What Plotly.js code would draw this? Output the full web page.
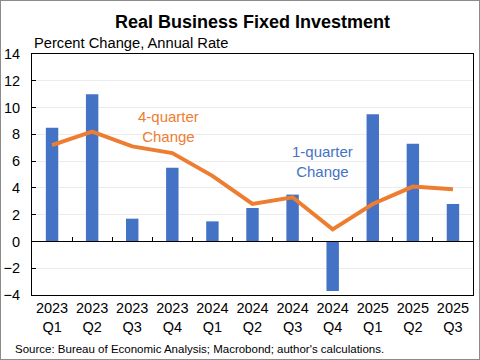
<!DOCTYPE html>
<html><head><meta charset="utf-8">
<script src="https://cdn.plot.ly/plotly-3.0.1.min.js"></script>
<style>html,body{margin:0;padding:0;background:#fff}#chart{width:478px;height:358px;border:1px solid #8c8c8c}</style>
</head><body><div id="chart"></div>
<script>
const categories = ["2023<br>Q1","2023<br>Q2","2023<br>Q3","2023<br>Q4","2024<br>Q1","2024<br>Q2","2024<br>Q3","2024<br>Q4","2025<br>Q1","2025<br>Q2","2025<br>Q3"];
const oneQuarter = [8.5, 11.0, 1.7, 5.5, 1.5, 2.5, 3.5, -3.7, 9.5, 7.3, 2.8];
const fourQuarter = [7.2, 8.2, 7.1, 6.6, 4.9, 2.8, 3.3, 0.9, 2.8, 4.1, 3.9];
const yTicks = [-4, -2, 0, 2, 4, 6, 8, 10, 12, 14];

const font = "Liberation Sans, Arial, sans-serif";
const traces = [
  {type:"bar", x:categories, y:oneQuarter, marker:{color:"#4472C4"}, width:0.31, xaxis:"x", yaxis:"y", hoverinfo:"skip"},
  {type:"scatter", mode:"lines", x:categories, y:fourQuarter, line:{color:"#ED7D31", width:4}, xaxis:"x2", yaxis:"y", hoverinfo:"skip"}
];
const layout = {
  width:478, height:358,
  margin:{l:31, r:6, t:53, b:64},
  paper_bgcolor:"#fff", plot_bgcolor:"#fff",
  showlegend:false,
  font:{family:font, color:"#000"},
  title:{text:"<b>Real Business Fixed Investment</b>", font:{size:18, family:font, color:"#000"}, x:0.5, xref:"paper", xanchor:"center", y:1-21/358, yref:"container", yanchor:"middle"},
  xaxis:{type:"category", range:[-0.5,10.5], showline:true, mirror:true, linecolor:"#000", linewidth:1, ticks:"", showgrid:false, zeroline:false, tickfont:{size:14.5, color:"#000"}, fixedrange:true},
  xaxis2:{type:"category", range:[-0.5,10.5], overlaying:"x", anchor:"free", position:4/18, showline:true, linecolor:"#000", linewidth:1, ticks:"inside", ticklen:4, tickcolor:"#000", tickson:"boundaries", showticklabels:false, showgrid:false, zeroline:false},
  yaxis:{range:[-4,14], tickvals:yTicks, showline:true, mirror:true, linecolor:"#000", linewidth:1, ticks:"inside", ticklen:4, tickcolor:"#000", showgrid:true, gridcolor:"#ececec", gridwidth:1, zeroline:false, tickfont:{size:14.5, color:"#000"}, ticklabelstandoff:8, fixedrange:true},
  annotations:[
    {text:"Percent Change, Annual Rate", xref:"paper", yref:"paper", x:-0.001, y:1, xanchor:"left", yanchor:"bottom", yshift:1, showarrow:false, font:{size:14.7, color:"#000"}},
    {text:"4-quarter<br>Change", xref:"x", yref:"y", x:2.9, y:8.6, showarrow:false, font:{size:15, color:"#ED7D31"}},
    {text:"1-quarter<br>Change", xref:"x", yref:"y", x:6.75, y:6.0, showarrow:false, font:{size:15, color:"#4472C4"}},
    {text:"Source: Bureau of Economic Analysis; Macrobond; author's calculations.", xref:"paper", yref:"paper", x:-19/441, y:-(349-295)/241, xanchor:"left", yanchor:"middle", showarrow:false, font:{size:11.5, color:"#000"}}
  ]
};
Plotly.newPlot("chart", traces, layout, {staticPlot:true, displayModeBar:false});
</script></body></html>
